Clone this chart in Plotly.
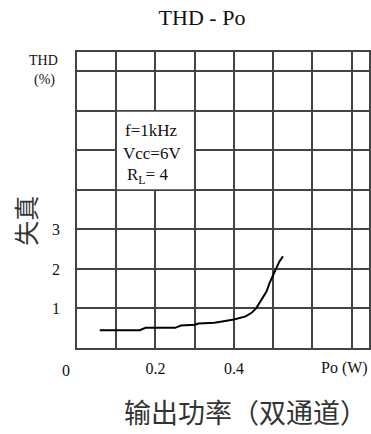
import plotly.graph_objects as go

# Data
po_w = [0.058, 0.16, 0.175, 0.25, 0.265, 0.30, 0.31, 0.35, 0.37, 0.40, 0.43,
        0.445, 0.457, 0.47, 0.483, 0.491, 0.50, 0.508, 0.516, 0.525]
thd_pct = [0.45, 0.45, 0.51, 0.51, 0.57, 0.59, 0.62, 0.64, 0.67, 0.72, 0.80,
           0.89, 1.01, 1.22, 1.43, 1.65, 1.86, 2.03, 2.19, 2.32]
x_tick_vals = [0.2, 0.4]
x_tick_text = ["0.2", "0.4"]
y_tick_vals = [1, 2, 3]
y_tick_text = ["1", "2", "3"]

SERIF = "Liberation Serif"
CJK = "Noto Sans CJK SC"
GRID = "#444444"
TXT = "#111111"

fig = go.Figure()
fig.add_trace(go.Scatter(x=po_w, y=thd_pct, mode="lines",
                         line=dict(color="black", width=2), hoverinfo="skip",
                         showlegend=False))

# Condition box covering the grid
fig.add_shape(type="rect", x0=0.1, x1=0.3, y0=4, y1=6, xref="x", yref="y",
              fillcolor="white", line=dict(color=GRID, width=1.5), layer="between")

fig.add_annotation(x=0.118, y=5.51, xref="x", yref="y", text="f=1kHz",
                   showarrow=False, xanchor="left", font=dict(family=SERIF, size=17, color=TXT))
fig.add_annotation(x=0.113, y=4.92, xref="x", yref="y", text="Vcc=6V",
                   showarrow=False, xanchor="left", font=dict(family=SERIF, size=17, color=TXT))
fig.add_annotation(x=0.122, y=4.34, xref="x", yref="y",
                   text="R<sub>L</sub>= 4",
                   showarrow=False, xanchor="left", font=dict(family=SERIF, size=17, color=TXT))

# Corner/axis labels
fig.add_annotation(x=0, y=0, xref="paper", yref="y", text="0", showarrow=False,
                   xshift=-17, yshift=-22, font=dict(family=SERIF, size=16, color=TXT))
fig.add_annotation(x=0.683, y=0, xref="x", yref="paper", text="Po (W)", showarrow=False,
                   yanchor="middle", yshift=-20, font=dict(family=SERIF, size=16, color=TXT))
fig.add_annotation(x=0, y=1.0, xref="paper", yref="paper", text="THD", showarrow=False,
                   xanchor="right", xshift=-17, yshift=-8, yanchor="middle",
                   font=dict(family=SERIF, size=14, color=TXT))
fig.add_annotation(x=0, y=1.0, xref="paper", yref="paper", text="(%)", showarrow=False,
                   xanchor="right", xshift=-20, yshift=-28, yanchor="middle",
                   font=dict(family=SERIF, size=14, color=TXT))
fig.add_annotation(x=0, y=3.22, xref="paper", yref="y", text="失真", showarrow=False,
                   textangle=-90, xanchor="center", xshift=-52,
                   font=dict(family=CJK, size=25, color="#333"))
fig.add_annotation(x=(247 - 77) / 294, y=0, xref="paper", yref="paper", text="输出功率（双通道）",
                   showarrow=False, xanchor="center", yanchor="middle", yshift=-63,
                   font=dict(family=CJK, size=27, color="#333"))

fig.update_layout(
    width=371, height=434,
    margin=dict(l=77, r=0, t=52, b=86),
    paper_bgcolor="white", plot_bgcolor="white",
    title=dict(text="THD - Po", x=(202 - 0) / 371, xanchor="center", y=1 - 17 / 434,
               yanchor="middle", font=dict(family=SERIF, size=22, color=TXT)),
    xaxis=dict(range=[0, 0.7443], showgrid=True, gridcolor=GRID, gridwidth=1.5,
               tickmode="array", tickvals=x_tick_vals, ticktext=x_tick_text,
               showline=True, linecolor=GRID, linewidth=1.5, mirror=True,
               zeroline=False, ticks="", ticklabelstandoff=5,
               tickfont=dict(family=SERIF, size=16, color=TXT),
               minor=dict(showgrid=True, gridcolor=GRID, gridwidth=1.5, tick0=0, dtick=0.1)),
    yaxis=dict(range=[0, 7.49], showgrid=True, gridcolor=GRID, gridwidth=1.5,
               tickmode="array", tickvals=y_tick_vals, ticktext=y_tick_text,
               showline=True, linecolor=GRID, linewidth=1.5, mirror=True,
               zeroline=False, ticks="", ticklabelstandoff=12,
               tickfont=dict(family=SERIF, size=16, color=TXT),
               minor=dict(showgrid=True, gridcolor=GRID, gridwidth=1.5, tick0=0, dtick=1)),
)

fig.write_html("out.html", config={"displayModeBar": False},
               post_script="document.body.style.margin='0';document.body.style.overflow='hidden';")
